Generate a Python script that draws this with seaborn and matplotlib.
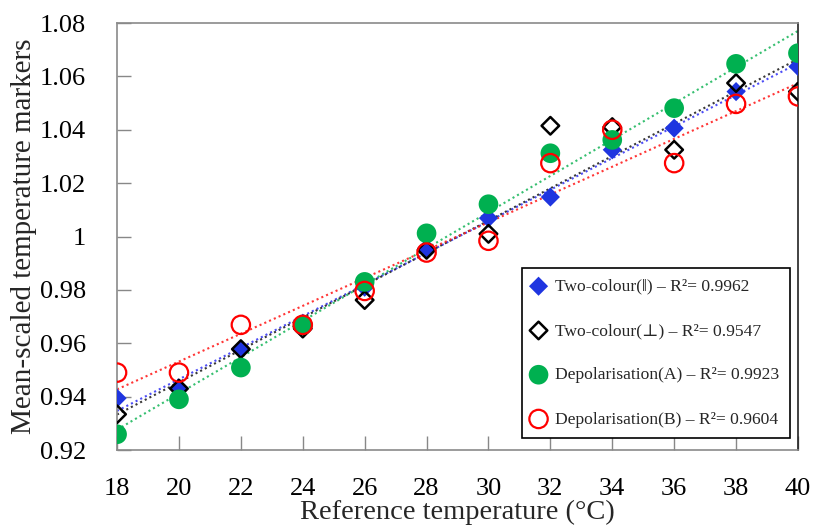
import matplotlib
matplotlib.use("Agg")
import matplotlib.pyplot as plt
import seaborn as sns
import pandas as pd

temps = [18, 20, 22, 24, 26, 28, 30, 32, 34, 36, 38, 40]
two_par = [0.9394, 0.9431, 0.9578, 0.9675, 0.9810, 0.9956, 1.0069, 1.0148, 1.0325, 1.0406, 1.0543, 1.0637]
two_perp = [0.9334, 0.9430, 0.9578, 0.9655, 0.9762, 0.9950, 1.0010, 1.0415, 1.0410, 1.0325, 1.0575, 1.0543]
depol_a = [0.9259, 0.9390, 0.9509, 0.9669, 0.9830, 1.0012, 1.0121, 1.0312, 1.0362, 1.0481, 1.0647, 1.0687]
depol_b = [0.9490, 0.9490, 0.9669, 0.9669, 0.9796, 0.9940, 0.9984, 1.0275, 1.0400, 1.0275, 1.0497, 1.0525]
labels = ["Two-colour(\u2016) \u2013 R\u00b2= 0.9962",
          "Two-colour(\u22a5) \u2013 R\u00b2= 0.9547",
          "Depolarisation(A) \u2013 R\u00b2= 0.9923",
          "Depolarisation(B) \u2013 R\u00b2= 0.9604"]
xticks = [18, 20, 22, 24, 26, 28, 30, 32, 34, 36, 38, 40]
yticks = [0.92, 0.94, 0.96, 0.98, 1.00, 1.02, 1.04, 1.06, 1.08]
ytick_labels = ["0.92", "0.94", "0.96", "0.98", "1", "1.02", "1.04", "1.06", "1.08"]

sns.set_style("white")
plt.rcParams['font.family'] = ['Liberation Serif', 'DejaVu Serif']

fig = plt.figure(figsize=(8.13, 5.28), dpi=100)
ax = fig.add_axes([0.144, 0.1477, 0.8375, 0.8087])

series = [two_par, two_perp, depol_a, depol_b]
styles = [
    dict(marker='D', s=95, color='#1f35e0', edgecolor='none', linewidth=0),
    dict(marker='D', s=80, color='black', facecolors='none', edgecolor='black', linewidth=1.8),
    dict(marker='o', s=200, color='#00b050', edgecolor='none', linewidth=0),
    dict(marker='o', s=175, color='red', facecolors='none', edgecolor='red', linewidth=1.6),
]
line_colors = ['#3a3af5', '#222222', '#20b860', '#ff2020']

for vals, lc in zip(series, line_colors):
    df = pd.DataFrame({"t": temps, "v": vals})
    sns.regplot(data=df, x="t", y="v", scatter=False, ci=None, ax=ax,
                line_kws=dict(color=lc, lw=1.5, linestyle=(0, (1, 1.5)), alpha=0.9))

for vals, st, lab in zip(series, styles, labels):
    df = pd.DataFrame({"t": temps, "v": vals})
    sns.scatterplot(data=df, x="t", y="v", ax=ax, label=lab, zorder=3, **st)

ax.set_xlim(18, 40)
ax.set_ylim(0.92, 1.08)
ax.set_xticks(xticks)
ax.set_xticklabels([str(t) for t in xticks])
ax.set_yticks(yticks)
ax.set_yticklabels(ytick_labels)
ax.tick_params(axis='both', direction='in', length=10, width=1, color='#888888',
               labelsize=19, labelcolor='black')
ax.tick_params(axis='x', top=False, bottom=True, pad=20)
ax.tick_params(axis='y', left=True, right=False, pad=22.5)
ax.set_xlabel("Reference temperature (\u00b0C)", fontsize=20.5, labelpad=0)
ax.set_ylabel("Mean-scaled temperature markers", fontsize=21, labelpad=2)
for side in ['left', 'bottom', 'top']:
    ax.spines[side].set_color('#8a8a8a')
    ax.spines[side].set_linewidth(1.2)
ax.spines['right'].set_color('#222222')
ax.spines['right'].set_linewidth(1.2)

leg = ax.legend(loc='lower right', bbox_to_anchor=(0.988, 0.028), borderaxespad=0,
                fontsize=12.6, frameon=True, fancybox=False, framealpha=1,
                edgecolor='black', labelspacing=1.6, handlelength=0.7,
                handletextpad=0.6, borderpad=0.6)
leg.get_frame().set_linewidth(1.2)

fig.savefig("out.png", dpi=100)
